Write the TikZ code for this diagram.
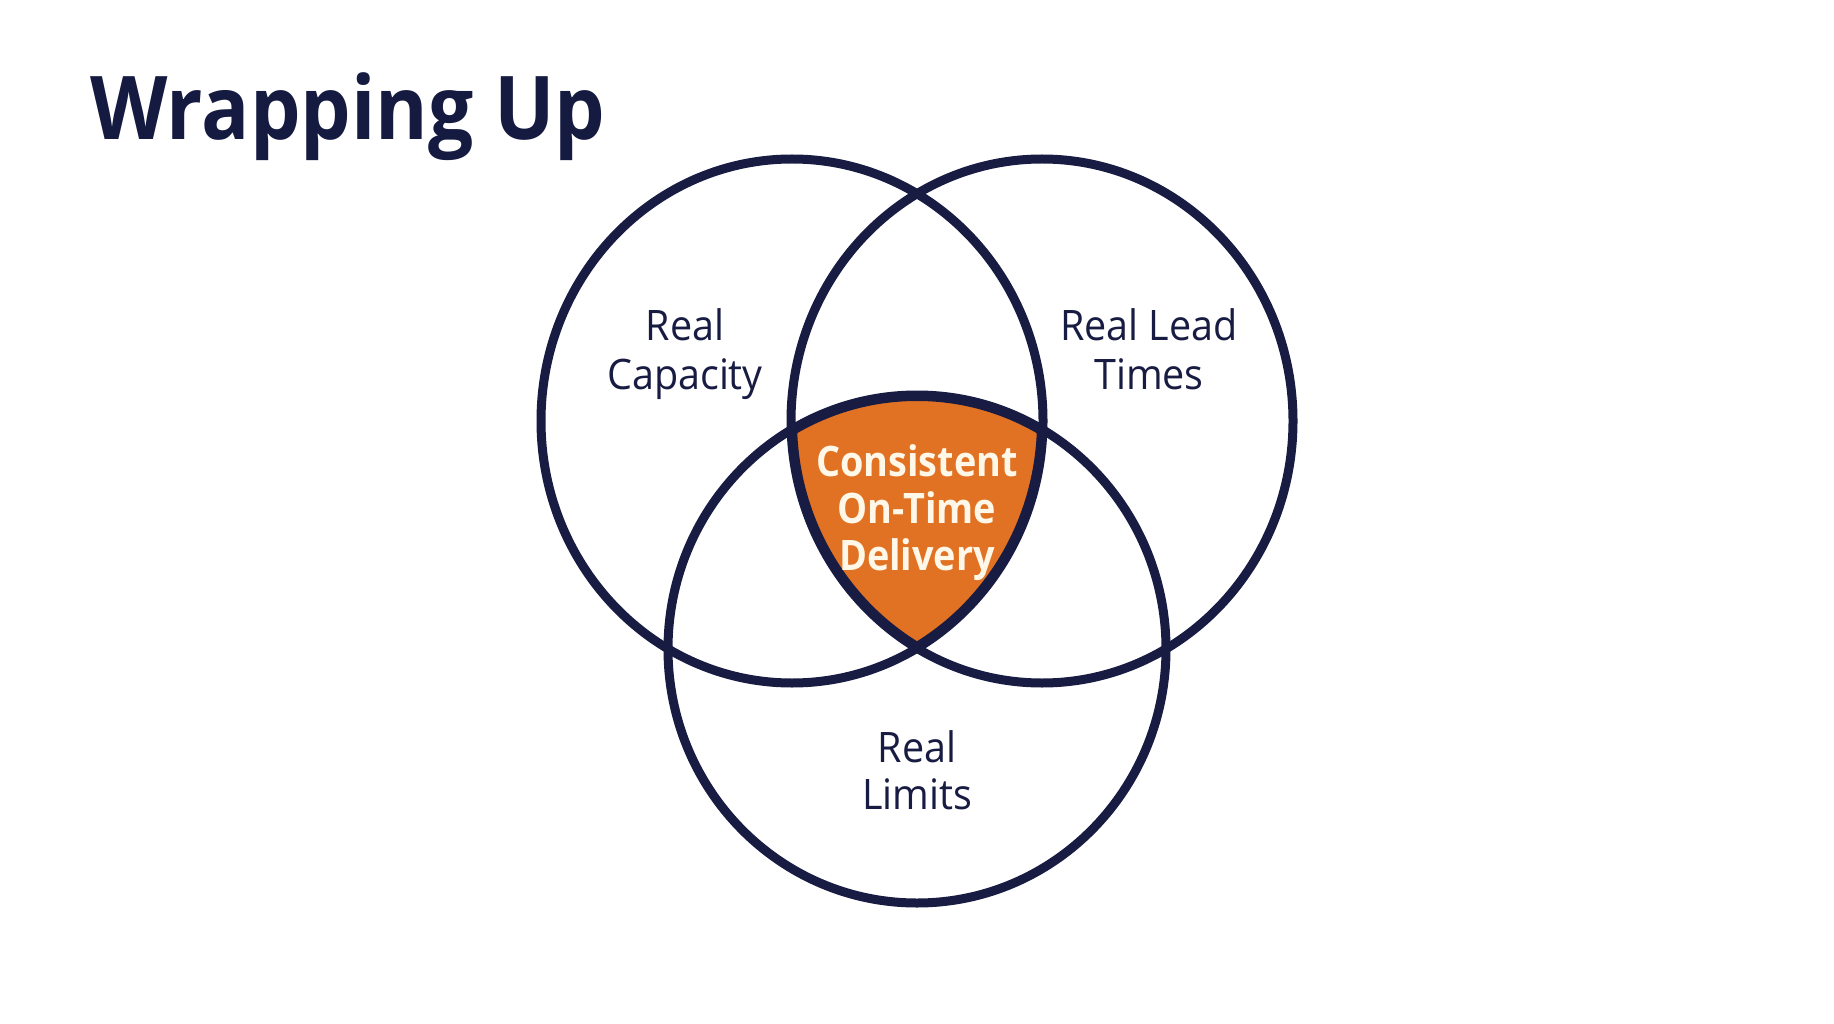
\documentclass[tikz,border=0pt]{standalone}
\usepackage{fontspec}
\setmainfont{Open Sans}[FakeStretch=0.94]
\newfontfamily\titlefont{Open Sans}[FakeStretch=0.91]
\newfontfamily\corefont{Open Sans}[FakeStretch=0.9]
\definecolor{navy}{RGB}{24,28,66}
\definecolor{titlenavy}{RGB}{20,26,64}
\definecolor{core}{RGB}{226,114,35}
\definecolor{cream}{RGB}{255,248,232}
\tikzset{
  ring/.style={draw=navy,line width=9pt},
  label/.style={anchor=base,text=navy,font=\fontsize{42}{47}\selectfont,inner sep=0pt},
  corelabel/.style={anchor=base,text=cream,font=\corefont\fontsize{42}{47}\selectfont\bfseries,inner sep=0pt},
}
\begin{document}
\begin{tikzpicture}[x=1pt,y=-1pt]
\useasboundingbox (0,0) rectangle (1834,1024);
\fill[white] (0,0) rectangle (1834,1024);
% title
\node[anchor=base west,inner sep=0pt,text=titlenavy,font=\titlefont\fontsize{88}{90}\selectfont\bfseries] (title) at (90,140) {Wrapping Up};
% centers
\coordinate (cL) at (792,421);
\coordinate (cR) at (1042,421);
\coordinate (cB) at (917,649);
% orange core
\begin{scope}
  \clip (cL) ellipse [x radius=251,y radius=262];
  \clip (cR) ellipse [x radius=251,y radius=262];
  \fill[core] (cB) ellipse [x radius=249,y radius=254];
\end{scope}
% rings
\draw[ring] (cL) ellipse [x radius=251,y radius=262];
\draw[ring] (cR) ellipse [x radius=251,y radius=262];
\draw[ring] (cB) ellipse [x radius=249,y radius=254];
% thicker border of core
\begin{scope}
  \clip (cL) ellipse [x radius=251,y radius=262];
  \clip (cR) ellipse [x radius=251,y radius=262];
  \clip (cB) ellipse [x radius=249,y radius=254];
  \draw[navy,line width=12pt] (cL) ellipse [x radius=251,y radius=262];
  \draw[navy,line width=12pt] (cR) ellipse [x radius=251,y radius=262];
  \draw[navy,line width=12pt] (cB) ellipse [x radius=249,y radius=254];
\end{scope}
% labels
\node[label] (capA) at (685,341) {Real};
\node[label] (capB) at (685,389) {Capacity};
\node[label] (leadA) at (1149,341) {Real Lead};
\node[label] (leadB) at (1149,389) {Times};
\node[label] (limA) at (917,762) {Real};
\node[label] (limB) at (917,809) {Limits};
\node[corelabel] (coreA) at (917,476) {Consistent};
\node[corelabel] (coreB) at (917,523) {On-Time};
\node[corelabel] (coreC) at (917,570) {Delivery};
\end{tikzpicture}
\end{document}
